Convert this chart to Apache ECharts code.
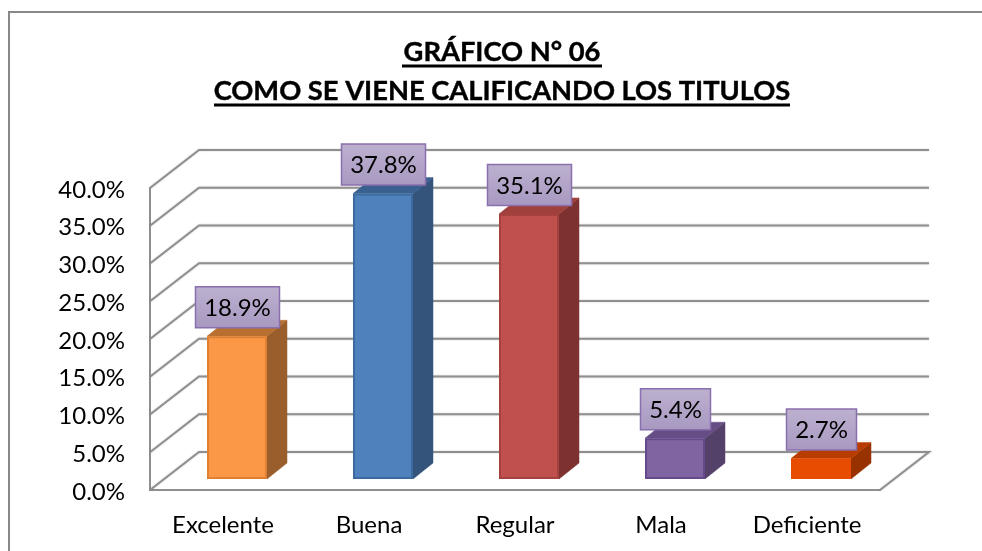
<!DOCTYPE html>
<html><head><meta charset="utf-8">
<style>html,body{margin:0;padding:0;background:#fff}#c{width:982px;height:551px}</style>
<script src="https://cdn.jsdelivr.net/npm/echarts@6/dist/echarts.min.js"></script>
</head><body><div id="c"></div>
<script>
const categories = ['Excelente','Buena','Regular','Mala','Deficiente'];
const values = [18.9,37.8,35.1,5.4,2.7];
const yTicks = [0,5,10,15,20,25,30,35,40];
const titleLines = ['GRÁFICO N° 06','COMO SE VIENE CALIFICANDO LOS TITULOS'];
const faceColors = ['#FA9847','#4F81BD','#C0504D','#8064A2','#E84C00'];
const borderColors = ['#E08030','#3C6A9E','#A5413E','#65498A','#E84C00'];
const sideColors = ['#9A5E2C','#34547C','#7E3230','#544169','#983200'];
const topColors = ['#B96F30','#3A6090','#A0403D','#664D85','#B83C00'];

const FONT = 'Lato';
const WALL_DX = 49, WALL_DY = 38, BAR_DX = 20, BAR_DY = 16, OFF_X = 14, OFF_Y = 11;
const gridCol = '#8F8F8F';

function renderWall(params, api) {
  const cs = params.coordSys;
  const v = api.value(0);
  const y = api.coord([0, v])[1];
  const l = cs.x, r = cs.x + cs.width;
  const pts = [[l, y], [l + WALL_DX, y - WALL_DY], [r + WALL_DX, y - WALL_DY]];
  if (v === 0) pts.push([r, y]);
  return {type:'polyline', shape:{points:pts},
    style:{fill:null, stroke:gridCol, lineWidth:2, shadowBlur:2, shadowColor:'rgba(0,0,0,0.2)'}};
}
function renderBar(params, api) {
  const i = api.value(0), v = api.value(1);
  const w = api.size([1,0])[0] * 0.411;
  const top = api.coord([i, v]), base = api.coord([i, 0]);
  const x0 = top[0] + OFF_X - w/2, x1 = x0 + w;
  const yt = top[1] - OFF_Y, yb = base[1] - OFF_Y;
  const st = c => ({fill:c, stroke:c, lineWidth:0.5});
  return {type:'group', children:[
    {type:'polygon', shape:{points:[[x1,yb],[x1+BAR_DX,yb-BAR_DY],[x1+BAR_DX,yt-BAR_DY],[x1,yt]]}, style:st(sideColors[i])},
    {type:'polygon', shape:{points:[[x0,yt],[x0+BAR_DX,yt-BAR_DY],[x1+BAR_DX,yt-BAR_DY],[x1,yt]]}, style:st(topColors[i])},
    {type:'rect', shape:{x:x0+1,y:yt+1,width:w-2,height:yb-yt-2}, style:{fill:faceColors[i], stroke:borderColors[i], lineWidth:2}}
  ]};
}
function renderLabel(params, api) {
  const i = api.value(0), v = api.value(1);
  const top = api.coord([i, v]);
  const cx = top[0] + 14.5, cy = top[1] - OFF_Y - 29;
  const txt = v.toFixed(1) + '%';
  const bw = v < 10 ? 70 : 84, bh = 41;
  return {type:'group', children:[
    {type:'rect', shape:{x:cx-bw/2,y:cy-bh/2,width:bw,height:bh},
     style:{fill:new echarts.graphic.LinearGradient(0,0,0,1,[{offset:0,color:'#BDB1CF'},{offset:1,color:'#A898C1'}]), stroke:'#8A6FAE', lineWidth:1.5}},
    {type:'text', style:{x:cx,y:cy+1,text:txt,fill:'#000',font:'24px '+FONT,align:'center',verticalAlign:'middle'}}
  ]};
}
const chart = echarts.init(document.getElementById('c'), null, {renderer:'canvas'});
chart.setOption({
  animation:false,
  backgroundColor:'#fff',
  title:{text:titleLines.join('\n'), left:502, top:33, padding:0, textAlign:'center',
    textStyle:{fontFamily:FONT,fontWeight:'bold',fontSize:27.3,lineHeight:38.5,color:'#000',textBorderColor:'#000',textBorderWidth:0.4}},
  grid:{left:150,top:188,width:730,height:302},
  xAxis:{type:'category',data:categories,
    axisLine:{show:true,lineStyle:{color:gridCol,width:2}},axisTick:{show:false},
    axisLabel:{margin:23,fontFamily:FONT,fontSize:24,color:'#000'},splitLine:{show:false}},
  yAxis:{type:'value',min:0,max:40,interval:5,
    axisLine:{show:true,lineStyle:{color:gridCol,width:2}},axisTick:{show:false},
    axisLabel:{margin:25,fontFamily:FONT,fontSize:24,color:'#000',verticalAlign:'top',lineHeight:4,formatter:v=>v.toFixed(1)+'%'},splitLine:{show:false}},
  graphic:[
    {type:'polyline',silent:true,z:-1,shape:{points:[[9,551],[9,12],[982,12]]},style:{fill:null,stroke:'#888',lineWidth:2}},
    {type:'line',shape:{x1:402,y1:66,x2:602,y2:66},style:{stroke:'#000',lineWidth:3}},
    {type:'line',shape:{x1:214,y1:105,x2:790,y2:105},style:{stroke:'#000',lineWidth:3}}
  ],
  series:[
    {type:'custom',name:'wall',coordinateSystem:'cartesian2d',data:yTicks.map(v=>[v]),encode:{y:0},renderItem:renderWall,z:1,silent:true,clip:false},
    {type:'custom',name:'bars',coordinateSystem:'cartesian2d',data:values.map((v,i)=>[i,v]),encode:{x:0,y:1},renderItem:renderBar,z:2,silent:true,clip:false},
    {type:'custom',name:'labels',coordinateSystem:'cartesian2d',data:values.map((v,i)=>[i,v]),encode:{x:0,y:1},renderItem:renderLabel,z:3,silent:true,clip:false}
  ]
});
</script></body></html>
